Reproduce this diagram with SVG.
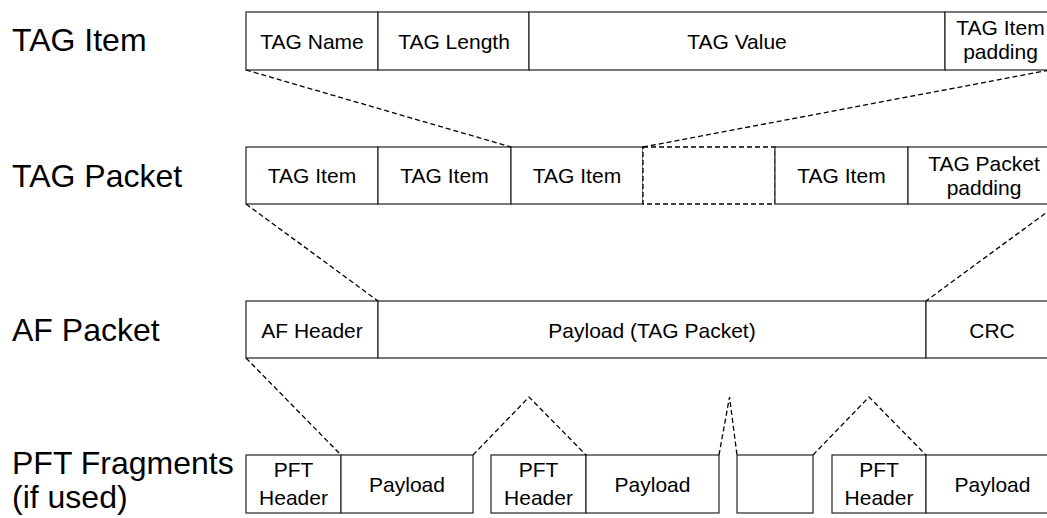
<svg xmlns="http://www.w3.org/2000/svg" width="1047" height="518" viewBox="0 0 1047 518">
<style>
.lbl{font-family:"Liberation Sans",Arial,sans-serif;font-size:32px;fill:#000}
.t{font-family:"Liberation Sans",Arial,sans-serif;font-size:21px;fill:#000;text-anchor:middle}
.box{fill:#fff;stroke:#222;stroke-width:1.2}
.dbox{fill:#fff;stroke:#000;stroke-width:1.3;stroke-dasharray:5,3}
.dl{fill:none;stroke:#000;stroke-width:1.3;stroke-dasharray:5,3}
</style>
<rect width="1047" height="518" fill="#fff"/>
<g id="labels">
<text class="lbl" x="12" y="51">TAG Item</text>
<text class="lbl" x="12" y="187">TAG Packet</text>
<text class="lbl" x="12" y="341">AF Packet</text>
<text class="lbl" x="12" y="474">PFT Fragments</text>
<text class="lbl" x="12" y="508">(if used)</text>
</g>
<g id="tag-item">
<rect class="box" x="246" y="12" width="132" height="58"/>
<rect class="box" x="378" y="12" width="151" height="58"/>
<rect class="box" x="529" y="12" width="416" height="58"/>
<rect class="box" x="945" y="12" width="111" height="58"/>
<text class="t" x="312" y="48.5">TAG Name</text>
<text class="t" x="454" y="48.5">TAG Length</text>
<text class="t" x="737" y="48.5">TAG Value</text>
<text class="t" x="1000.5" y="35">TAG Item</text>
<text class="t" x="1000.5" y="59">padding</text>
</g>
<g id="tag-packet">
<rect class="box" x="246" y="147" width="132" height="57"/>
<rect class="box" x="378" y="147" width="133" height="57"/>
<rect class="box" x="511" y="147" width="132" height="57"/>
<rect class="dbox" x="643" y="147" width="132" height="57"/>
<rect class="box" x="775" y="147" width="133" height="57"/>
<rect class="box" x="908" y="147" width="150" height="57"/>
<text class="t" x="312" y="183">TAG Item</text>
<text class="t" x="444.5" y="183">TAG Item</text>
<text class="t" x="577" y="183">TAG Item</text>
<text class="t" x="841.5" y="183">TAG Item</text>
<text class="t" x="984" y="171">TAG Packet</text>
<text class="t" x="984" y="195">padding</text>
</g>
<g id="af-packet">
<rect class="box" x="246" y="301" width="132" height="57"/>
<rect class="box" x="378" y="301" width="548" height="57"/>
<rect class="box" x="926" y="301" width="132" height="57"/>
<text class="t" x="312" y="338">AF Header</text>
<text class="t" x="652" y="338">Payload (TAG Packet)</text>
<text class="t" x="992" y="338">CRC</text>
</g>
<g id="pft-1">
<rect class="box" x="246" y="455" width="95" height="58"/>
<rect class="box" x="341" y="455" width="132" height="58"/>
<text class="t" x="293.5" y="477">PFT</text>
<text class="t" x="293.5" y="505">Header</text>
<text class="t" x="407" y="491.5">Payload</text>
</g>
<g id="pft-2">
<rect class="box" x="491" y="455" width="95" height="58"/>
<rect class="box" x="586" y="455" width="133" height="58"/>
<text class="t" x="538.5" y="477">PFT</text>
<text class="t" x="538.5" y="505">Header</text>
<text class="t" x="652.5" y="491.5">Payload</text>
</g>
<g id="pft-3">
<rect class="box" x="737" y="455" width="76" height="58"/>
</g>
<g id="pft-4">
<rect class="box" x="832" y="455" width="94" height="58"/>
<rect class="box" x="926" y="455" width="133" height="58"/>
<text class="t" x="879" y="477">PFT</text>
<text class="t" x="879" y="505">Header</text>
<text class="t" x="992.5" y="491.5">Payload</text>
</g>
<g id="connectors">
<path class="dl" d="M246,70 L511,147"/>
<path class="dl" d="M643,147 L1050,70"/>
<path class="dl" d="M246,204 L378,301"/>
<path class="dl" d="M1058,204 L926,301"/>
<path class="dl" d="M246,358 L341,455"/>
<path class="dl" d="M473,455 L529,397 L586,455"/>
<path class="dl" d="M719,455 L729.5,397 L737,455"/>
<path class="dl" d="M813,455 L869,397 L926,455"/>
</g>
</svg>
